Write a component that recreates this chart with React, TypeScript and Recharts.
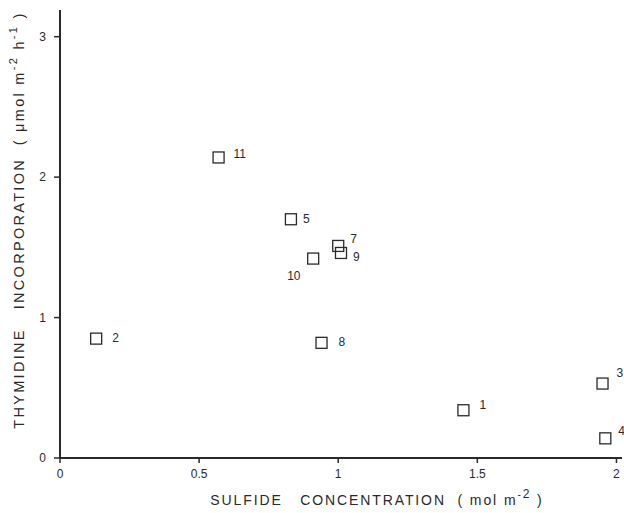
import React from 'react';
import { ScatterChart, Scatter, XAxis, YAxis, LabelList } from 'recharts';

// station numbers and values
const stationIds = ['1', '2', '3', '4', '5', '7', '8', '9', '10', '11'];
const sulfide = [1.45, 0.13, 1.95, 1.96, 0.83, 1.0, 0.94, 1.01, 0.91, 0.57];
const thymidine = [0.34, 0.85, 0.53, 0.14, 1.7, 1.51, 0.82, 1.46, 1.42, 2.14];

const xTicks = [0, 0.5, 1, 1.5, 2];
const yTicks = [0, 1, 2, 3];

const points = stationIds.map((id, i) => ({ id, x: sulfide[i], y: thymidine[i] }));

const INK = '#2a2a2a';
const FONT = '"Liberation Sans", Arial, sans-serif';

// where each station number sits relative to its square
const LABEL_OFFSETS: { [key: string]: [number, number] } = {
  '1': [16, -5],
  '2': [16, -1],
  '3': [14, -11],
  '4': [13, -7],
  '5': [12, 0],
  '7': [12, -7],
  '8': [17, -1],
  '9': [12, 4],
  '10': [-26, 17],
  '11': [15, -3],
};

const SquareShape = (props: any) => {
  const { cx, cy } = props;
  const s = 11;
  return <rect x={cx - s / 2} y={cy - s / 2} width={s} height={s} fill="none" stroke={INK} strokeWidth={1.3} />;
};

const StationLabel = (props: any) => {
  const { x, y, width, height, value } = props;
  const cx = x + (width || 0) / 2;
  const cy = y + (height || 0) / 2;
  const [dx, dy] = LABEL_OFFSETS[value] || [14, 0];
  return (
    <text x={cx + dx} y={cy + dy} fontSize={12} fill={INK} fontFamily={FONT} dominantBaseline="central">
      {value}
    </text>
  );
};

const XTitle = () => (
  <text x={377} y={500} textAnchor="middle" fontSize={14} fill={INK} fontFamily={FONT} letterSpacing={1.9} dominantBaseline="central">
    SULFIDE&#160;&#160;&#160;CONCENTRATION&#160;&#160;( mol m
    <tspan fontSize={10} dy={-6}>-</tspan>
    <tspan fontSize={12} dy={0}>2</tspan>
    <tspan dy={6}> )</tspan>
  </text>
);

const YTitle = () => (
  <text
    x={0}
    y={0}
    transform="translate(19, 220) rotate(-90)"
    textAnchor="middle"
    fontSize={14.5}
    fill={INK}
    fontFamily={FONT}
    letterSpacing={2.3}
    dominantBaseline="central"
  >
    THYMIDINE&#160;&#160;&#160;INCORPORATION&#160;&#160;( μmol m
    <tspan fontSize={11} dy={-6}>-2</tspan>
    <tspan dy={6}> h</tspan>
    <tspan fontSize={11} dy={-6}>-1</tspan>
    <tspan dy={6}> )</tspan>
  </text>
);

export default function App() {
  return (
    <div style={{ position: 'absolute', left: 0, top: 0, width: 624, height: 513, background: '#fff' }}>
      <ScatterChart width={624} height={513} margin={{ top: 10, right: 2, bottom: 0, left: 0 }}>
        <XAxis
          type="number"
          dataKey="x"
          domain={[0, 2.02]}
          ticks={xTicks}
          height={55}
          tickSize={5}
          tickMargin={6}
          tick={{ fontSize: 12, fill: INK, fontFamily: FONT }}
          axisLine={{ stroke: INK, strokeWidth: 2 }}
          tickLine={{ stroke: INK, strokeWidth: 1.5 }}
          tickFormatter={(v: number) => String(v)}
        />
        <YAxis
          type="number"
          dataKey="y"
          domain={[0, 3.19]}
          ticks={yTicks}
          width={60}
          tickSize={6}
          tickMargin={8}
          tick={{ fontSize: 12, fill: INK, fontFamily: FONT }}
          axisLine={{ stroke: INK, strokeWidth: 2 }}
          tickLine={{ stroke: INK, strokeWidth: 1.5 }}
        />
        <Scatter data={points} shape={<SquareShape />} isAnimationActive={false}>
          <LabelList dataKey="id" content={<StationLabel />} />
        </Scatter>
        <XTitle />
        <YTitle />
      </ScatterChart>
    </div>
  );
}
